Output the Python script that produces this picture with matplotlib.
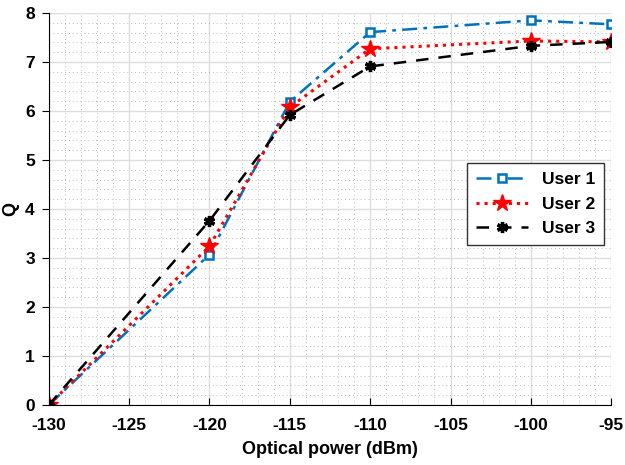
import matplotlib.pyplot as plt
from matplotlib.ticker import MultipleLocator

plt.rcParams['font.family'] = ['Liberation Sans', 'DejaVu Sans']
plt.rcParams['font.weight'] = 'bold'
plt.rcParams['axes.unicode_minus'] = False

# optical power (dBm) and Q for each user
power = [-130, -120, -115, -110, -100, -95]
user1 = [0, 3.07, 6.19, 7.61, 7.85, 7.77]
user2 = [0, 3.24, 6.08, 7.27, 7.43, 7.41]
user3 = [0, 3.76, 5.92, 6.91, 7.33, 7.41]

fig = plt.figure(figsize=(6.25, 4.65), dpi=100)
ax = fig.add_axes([0.078, 0.129, 0.9, 0.843])

ax.plot(power, user1, color='#0072BD', linestyle=(0, (6, 2.5, 1.5, 2.5)), linewidth=1.8,
        marker='s', markersize=6, markerfacecolor='white',
        markeredgecolor='#0072BD', markeredgewidth=1.8, label='User 1')
ax.plot(power, user2, color='red', linestyle=':', linewidth=2.2,
        marker='*', markersize=13, label='User 2')
ax.plot(power, user3, color='black', linestyle=(0, (5, 4)), linewidth=1.8,
        marker=(6, 2, 0), markersize=8, markeredgewidth=2.4, label='User 3')

ax.set_xlim(-130, -95)
ax.set_ylim(0, 8)
ax.set_xticks(range(-130, -94, 5))
ax.set_yticks(range(0, 9))
ax.xaxis.set_minor_locator(MultipleLocator(1))
ax.yaxis.set_minor_locator(MultipleLocator(0.2))
ax.grid(which='major', color='#dddddd', linewidth=1)
ax.grid(which='minor', color='#bbbbbb', linestyle=(0, (1, 3)), linewidth=0.7)
ax.set_axisbelow(True)

ax.spines['top'].set_visible(False)
ax.spines['right'].set_visible(False)
ax.tick_params(axis='x', which='major', direction='in', length=5, labelsize=12.5, pad=9)
ax.tick_params(axis='y', which='major', direction='out', length=5, labelsize=12.5, pad=5)
ax.tick_params(which='minor', length=0)

ax.set_xlabel('Optical power (dBm)', fontsize=13, fontweight='bold', labelpad=6)
ax.set_ylabel('Q', fontsize=13, fontweight='bold', labelpad=4)

leg = ax.legend(loc='upper left', bbox_to_anchor=(0.744, 0.617), fontsize=12.5,
                fancybox=False, edgecolor='#333333', framealpha=1,
                handlelength=3.0, borderpad=0.5, labelspacing=0.55,
                borderaxespad=0)
leg.get_frame().set_linewidth(1)

fig.savefig('out.png', dpi=100)
